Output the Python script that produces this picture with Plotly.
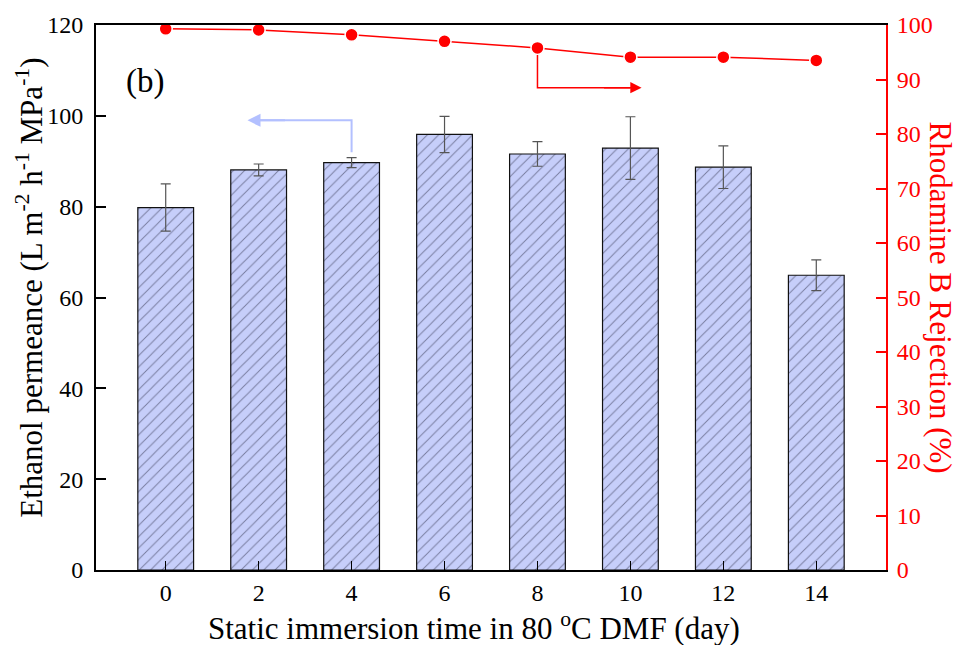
import plotly.graph_objects as go

days = ["0", "2", "4", "6", "8", "10", "12", "14"]
permeance = [79.8, 88.1, 89.7, 95.9, 91.6, 92.9, 88.7, 64.9]
perm_err = [5.2, 1.3, 1.1, 4.0, 2.7, 6.9, 4.7, 3.4]
rejection = [99.3, 99.1, 98.2, 97.0, 95.8, 94.1, 94.1, 93.5]
left_ticks = [0, 20, 40, 60, 80, 100, 120]
right_ticks = [0, 10, 20, 30, 40, 50, 60, 70, 80, 90, 100]

FONT = "Liberation Serif"
RED = "#ff0000"
BLUE_ARROW = "#b3c0ff"

fig = go.Figure()
fig.add_trace(go.Bar(
    x=list(range(len(days))), y=permeance,
    width=0.6,
    marker=dict(color="#c6cefa", line=dict(color="#111111", width=1.2),
                pattern=dict(shape="/", fgcolor="#2a2c45", bgcolor="#c6cefa",
                             size=8, solidity=0.12)),
    error_y=dict(type="data", array=perm_err, color="#555555", thickness=1.2, width=5),
    showlegend=False,
))
fig.add_trace(go.Scatter(
    x=list(range(len(days))), y=rejection, yaxis="y2",
    mode="lines+markers",
    line=dict(color=RED, width=1.5),
    marker=dict(color=RED, size=13, line=dict(color="white", width=1.5)),
    showlegend=False,
))

# Arrows indicating axes
fig.add_shape(type="path", xref="x", yref="y",
              path="M 2,92 L 2,99 L 1,99",
              line=dict(color=BLUE_ARROW, width=2))
fig.add_annotation(x=0.88, y=99, ax=1.3, ay=99, xref="x", yref="y", axref="x", ayref="y",
                   text="", showarrow=True, arrowhead=2, arrowsize=1.3, arrowwidth=2,
                   arrowcolor=BLUE_ARROW)
fig.add_shape(type="path", xref="x", yref="y2",
              path="M 4,94.5 L 4,88.5 L 5,88.5",
              line=dict(color=RED, width=1.5))
fig.add_annotation(x=5.12, y=88.5, ax=4.7, ay=88.5, xref="x", yref="y2", axref="x", ayref="y2",
                   text="", showarrow=True, arrowhead=2, arrowsize=1.5, arrowwidth=1.5,
                   arrowcolor=RED)

fig.add_annotation(x=-0.22, y=107.5, xref="x", yref="y", text="(b)", showarrow=False,
                   font=dict(family=FONT, size=33, color="black"))

# Axis titles
fig.add_annotation(x=-0.0835, y=0.518, xref="paper", yref="paper", textangle=-90,
                   xanchor="center", yanchor="middle",
                   text="Ethanol permeance (L m<sup>-2</sup> h<sup>-1</sup> MPa<sup>-1</sup>)",
                   showarrow=False, font=dict(family=FONT, size=31, color="black"))
fig.add_annotation(x=1.0696, y=0.5, xref="paper", yref="paper", textangle=90,
                   xanchor="center", yanchor="middle",
                   text="Rhodamine B Rejection (%)",
                   showarrow=False, font=dict(family=FONT, size=31, color=RED))
fig.add_annotation(x=0.478, y=-0.1036, xref="paper", yref="paper", yanchor="middle",
                   xanchor="center",
                   text="Static immersion time in 80 <sup>o</sup>C DMF (day)",
                   showarrow=False, font=dict(family=FONT, size=31, color="black"))

tick_font = dict(family=FONT, size=24, color="black")
fig.update_layout(
    width=960, height=645,
    margin=dict(l=96, r=74, t=20, b=75),
    plot_bgcolor="white", paper_bgcolor="white",
    font=dict(family=FONT, size=24, color="black"),
    xaxis=dict(range=[-0.75, 7.75], tickvals=list(range(len(days))), ticktext=days,
               showline=True, linecolor="black", linewidth=2, mirror=True,
               ticks="inside", ticklen=9, tickwidth=1, tickcolor="black",
               showgrid=False, zeroline=False, tickfont=tick_font),
    yaxis=dict(range=[0, 120], tickvals=left_ticks,
               showline=True, linecolor="black", linewidth=2,
               ticks="inside", ticklen=10, tickwidth=1.5, tickcolor="black",
               showgrid=False, zeroline=False, tickfont=tick_font,
               ticklabelstandoff=6),
    yaxis2=dict(range=[0, 100], tickvals=right_ticks, overlaying="y", side="right",
                showline=True, linecolor=RED, linewidth=2,
                ticks="inside", ticklen=10, tickwidth=2, tickcolor=RED,
                showgrid=False, zeroline=False,
                tickfont=dict(family=FONT, size=24, color=RED),
                ticklabelstandoff=4),
)

fig.write_html("out.html", config={"displayModeBar": False},
               post_script="document.body.style.margin='0px';")
